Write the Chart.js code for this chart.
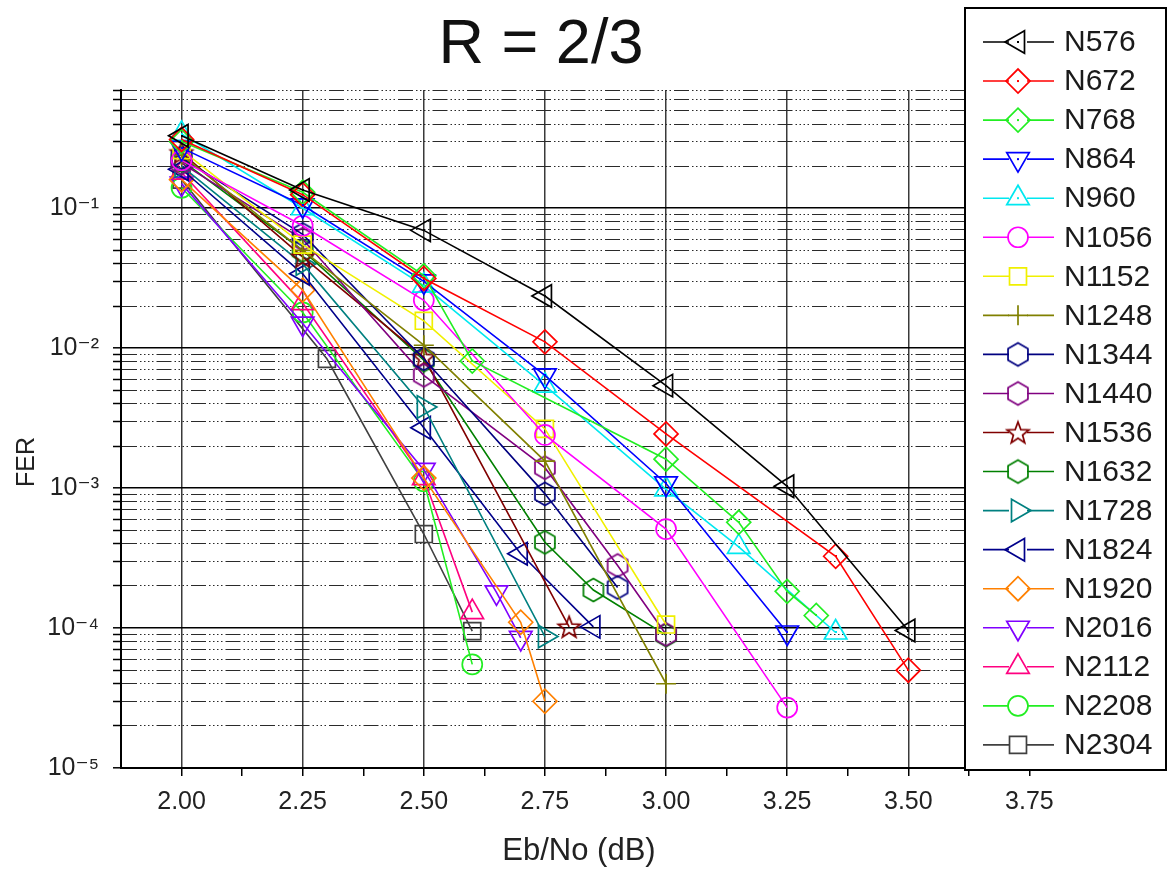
<!DOCTYPE html>
<html><head><meta charset="utf-8">
<script src="https://cdn.jsdelivr.net/npm/chart.js@4.4.1/dist/chart.umd.min.js"></script>
<style>html,body{margin:0;padding:0;background:#fff;}#wrap{width:1171px;height:871px;position:relative;}</style>
</head><body><div id="wrap"><canvas id="c" width="1171" height="871"></canvas></div>
<script>
const FONT = "'Liberation Sans', Arial, 'DejaVu Sans', sans-serif";
const chartTitle = 'R = 2/3';
const xAxisTitle = 'Eb/No (dB)';
const yAxisTitle = 'FER';

// x ticks
const xMajorTicks = [2.00, 2.25, 2.50, 2.75, 3.00, 3.25, 3.50, 3.75];
const xMajorLabels = ['2.00', '2.25', '2.50', '2.75', '3.00', '3.25', '3.50', '3.75'];
const xMinorTicks = [2.125, 2.375, 2.625, 2.875, 3.125, 3.375, 3.625];
// y ticks (log)
const yDecades = [1e-5, 1e-4, 1e-3, 1e-2, 1e-1];
const yDecadeLabels = ['10\u207B\u2075', '10\u207B\u2074', '10\u207B\u00B3', '10\u207B\u00B2', '10\u207B\u00B9'];
const yMinorMultipliers = [2, 3, 4, 5, 6, 7, 8, 9];

// series
const seriesNames = ['N576','N672','N768','N864','N960','N1056','N1152','N1248','N1344','N1440','N1536','N1632','N1728','N1824','N1920','N2016','N2112','N2208','N2304'];

const fer_N576  = [[2.00,0.33],[2.25,0.135],[2.50,0.0695],[2.75,0.0236],[3.00,0.0054],[3.25,0.00103],[3.50,9.6e-5]];
const fer_N672  = [[2.00,0.31],[2.25,0.125],[2.50,0.0315],[2.75,0.0111],[3.00,0.00244],[3.35,3.26e-4],[3.50,5.0e-5]];
const fer_N768  = [[2.00,0.30],[2.25,0.13],[2.50,0.033],[2.60,0.0081],[3.00,0.00161],[3.15,5.7e-4],[3.25,1.83e-4],[3.31,1.23e-4]];
const fer_N864  = [[2.00,0.27],[2.25,0.105],[2.50,0.030],[2.75,0.0064],[3.00,0.00108],[3.25,9.3e-5]];
const fer_N960  = [[2.00,0.34],[2.25,0.10],[2.50,0.028],[2.75,0.0054],[3.00,9.8e-4],[3.15,3.8e-4],[3.35,9.3e-5]];
const fer_N1056 = [[2.00,0.22],[2.25,0.075],[2.50,0.022],[2.75,0.0024],[3.00,5.1e-4],[3.25,2.7e-5]];
const fer_N1152 = [[2.00,0.26],[2.25,0.055],[2.50,0.0157],[2.75,0.00265],[3.00,1.06e-4]];
const fer_N1248 = [[2.00,0.24],[2.25,0.05],[2.50,0.0105],[2.75,0.00156],[3.00,4.0e-5]];
const fer_N1344 = [[2.00,0.23],[2.25,0.065],[2.50,0.0084],[2.75,9.1e-4],[2.90,1.95e-4]];
const fer_N1440 = [[2.00,0.21],[2.25,0.06],[2.50,0.0064],[2.75,0.0014],[2.90,2.8e-4],[3.00,9.0e-5]];
const fer_N1536 = [[2.00,0.25],[2.25,0.045],[2.50,0.0086],[2.80,1.02e-4]];
const fer_N1632 = [[2.00,0.22],[2.25,0.05],[2.50,0.0082],[2.75,4.1e-4],[2.85,1.87e-4],[3.00,8.9e-5]];
const fer_N1728 = [[2.00,0.20],[2.25,0.04],[2.50,0.0038],[2.75,8.7e-5]];
const fer_N1824 = [[2.00,0.19],[2.25,0.034],[2.50,0.0027],[2.70,3.4e-4],[2.85,1.02e-4]];
const fer_N1920 = [[2.00,0.16],[2.25,0.026],[2.50,0.00118],[2.70,1.1e-4],[2.75,3.0e-5]];
const fer_N2016 = [[2.00,0.15],[2.25,0.015],[2.50,0.00135],[2.65,1.8e-4],[2.70,8.5e-5]];
const fer_N2112 = [[2.00,0.18],[2.25,0.021],[2.50,0.00118],[2.60,1.3e-4]];
const fer_N2208 = [[2.00,0.14],[2.25,0.018],[2.50,0.00112],[2.60,5.5e-5]];
const fer_N2304 = [[2.00,0.16],[2.30,0.0084],[2.50,4.7e-4],[2.60,9.5e-5]];

const seriesData = [fer_N576,fer_N672,fer_N768,fer_N864,fer_N960,fer_N1056,fer_N1152,fer_N1248,fer_N1344,fer_N1440,fer_N1536,fer_N1632,fer_N1728,fer_N1824,fer_N1920,fer_N2016,fer_N2112,fer_N2208,fer_N2304];

// styles
const seriesColors = ['#000000','#ff0000','#22ee22','#0000ff','#00e8f0','#ff00ff','#f0f000','#808000','#000080','#800080','#800000','#008000','#008080','#00008b','#ff8000','#8000ff','#ff0080','#22ee22','#404040'];
const seriesShapes = ['triangle','rectRot','rectRot','triangle','triangle','circle','rect','cross','hex','hex','star5','hex','triangle','triangle','rectRot','triangle','triangle','circle','rect'];
const seriesRotation = [-90,0,0,180,0,0,0,0,0,0,0,0,90,-90,0,180,0,0,0];
const seriesRadius = [13,12,12,13,13,10,12,10,11,11,11,11,13,13,12,13,13,10,12];
const seriesCenterDot = [true,true,true,true,true,false,false,false,false,false,false,false,false,false,false,false,false,false,false];

function makeHex(color){
  const s=28, c=document.createElement('canvas'); c.width=s; c.height=s;
  const g=c.getContext('2d'); g.strokeStyle=color; g.lineWidth=1.7; g.beginPath();
  const R=11.5;
  for(let k=0;k<6;k++){ const a=-Math.PI/2+k*Math.PI/3; const x=s/2+R*Math.cos(a), y=s/2+R*Math.sin(a); k?g.lineTo(x,y):g.moveTo(x,y); }
  g.closePath(); g.stroke(); return c;
}
function makeStar(color){
  const s=28, c=document.createElement('canvas'); c.width=s; c.height=s;
  const g=c.getContext('2d'); g.strokeStyle=color; g.lineWidth=1.7; g.lineJoin='miter'; g.beginPath();
  const R=11.5, r=4.8;
  for(let k=0;k<10;k++){ const a=-Math.PI/2+k*Math.PI/5; const rr=k%2?r:R; const x=s/2+rr*Math.cos(a), y=s/2+1+rr*Math.sin(a); k?g.lineTo(x,y):g.moveTo(x,y); }
  g.closePath(); g.stroke(); return c;
}
function styleFor(i){
  const sh=seriesShapes[i];
  if(sh==='hex') return makeHex(seriesColors[i]);
  if(sh==='star5') return makeStar(seriesColors[i]);
  return sh;
}

const datasets = seriesNames.map((name,i)=>({
  label: name,
  data: seriesData[i].map(p=>({x:p[0], y:p[1]})),
  borderColor: seriesColors[i],
  backgroundColor: 'rgba(0,0,0,0)',
  borderWidth: 1.6,
  pointStyle: styleFor(i),
  pointRotation: seriesRotation[i],
  pointRadius: seriesRadius[i],
  pointBorderWidth: 1.7,
  pointBorderColor: seriesColors[i],
  pointBackgroundColor: 'rgba(0,0,0,0)',
  tension: 0,
  fill: false,
  centerDot: seriesCenterDot[i]
}));

function isDecade(v){ return yDecades.some(d=>Math.abs(Math.log10(v)-Math.log10(d))<1e-6); }
const minorDash = [15,3,1.5,2.5,1.5,2.5,1.5,2.5,1.5,3];

const centerDotPlugin = {
  id:'centerDot',
  afterDatasetsDraw(chart){
    const ctx=chart.ctx, a=chart.chartArea;
    ctx.save(); ctx.beginPath(); ctx.rect(a.left,a.top,a.right-a.left,a.bottom-a.top); ctx.clip();
    chart.data.datasets.forEach((ds,i)=>{
      if(!ds.centerDot) return;
      const meta=chart.getDatasetMeta(i);
      ctx.fillStyle=ds.borderColor;
      meta.data.forEach(el=>{ ctx.fillRect(Math.round(el.x)-1,Math.round(el.y)-1,2,2); });
    });
    ctx.restore();
  }
};

const titleLegendPlugin = {
  id:'titleLegend',
  afterDraw(chart){
    const ctx=chart.ctx;
    ctx.save();
    // chart title
    ctx.fillStyle='#111'; ctx.font='63px '+FONT; ctx.textAlign='center'; ctx.textBaseline='middle';
    ctx.fillText(chartTitle, 541, 46);
    // axis titles
    ctx.fillStyle='#222'; ctx.font='31px '+FONT;
    ctx.fillText(xAxisTitle, 579, 851);
    ctx.save(); ctx.translate(27, 462); ctx.rotate(-Math.PI/2);
    ctx.font='25px '+FONT; ctx.fillText(yAxisTitle, 0, 0); ctx.restore();
    // legend box
    const bx=965, by=8, bw=201, bh=762;
    ctx.fillStyle='#fff'; ctx.fillRect(bx,by,bw,bh);
    ctx.strokeStyle='#000'; ctx.lineWidth=2; ctx.strokeRect(bx,by,bw,bh);
    const rowStep = 39.05;
    chart.data.datasets.forEach((ds,i)=>{
      const y = 42 + i*rowStep, mx = 1018;
      ctx.strokeStyle=ds.borderColor; ctx.lineWidth=1.6; ctx.setLineDash([]);
      ctx.beginPath(); ctx.moveTo(983,y); ctx.lineTo(mx-9,y); ctx.moveTo(mx+9,y); ctx.lineTo(1054,y); ctx.stroke();
      ctx.fillStyle='rgba(0,0,0,0)'; ctx.strokeStyle=ds.borderColor; ctx.lineWidth=1.7;
      Chart.helpers.drawPoint(ctx,{pointStyle:ds.pointStyle, rotation:ds.pointRotation, radius:ds.pointRadius, borderWidth:1.7}, mx, y);
      if(ds.centerDot){ ctx.fillStyle=ds.borderColor; ctx.fillRect(mx-1,y-1,2,2); }
      ctx.fillStyle='#1a1a1a'; ctx.font='30px '+FONT; ctx.textAlign='left'; ctx.textBaseline='middle';
      ctx.fillText(ds.label, 1064, y+1);
    });
    ctx.restore();
  }
};

new Chart(document.getElementById('c'), {
  type:'line',
  data:{datasets},
  plugins:[centerDotPlugin, titleLegendPlugin],
  options:{
    responsive:false, animation:false, devicePixelRatio:1,
    layout:{padding:{top:90,right:81,bottom:0,left:0}},
    plugins:{legend:{display:false}, title:{display:false}, tooltip:{enabled:false}},
    elements:{line:{tension:0}},
    scales:{
      x:{
        type:'linear', min:1.875, max:3.875,
        afterBuildTicks:(s)=>{ s.ticks = xMajorTicks.concat(xMinorTicks).sort((a,b)=>a-b).map(v=>({value:v})); },
        afterFit:(s)=>{ s.height = 103; },
        ticks:{
          autoSkip:false, maxRotation:0, padding:11, color:'#222',
          font:{family:FONT, size:25},
          callback:(v)=>{ const i=xMajorTicks.findIndex(t=>Math.abs(t-v)<1e-6); return i>=0?xMajorLabels[i]:''; }
        },
        grid:{
          color:(c)=> (c.tick && xMajorTicks.some(t=>Math.abs(t-c.tick.value)<1e-6)) ? '#3a3a3a' : 'rgba(0,0,0,0)',
          lineWidth:1.5, tickColor:'#000', tickWidth:1.5, tickLength:8, drawTicks:true
        },
        border:{display:true, color:'#000', width:2},
        title:{display:false}
      },
      y:{
        type:'logarithmic', min:1e-5, max:0.7,
        afterBuildTicks:(s)=>{
          const t=[];
          yDecades.forEach(d=>{ t.push(d); yMinorMultipliers.forEach(m=>{ const v=m*d; if(v<=0.7+1e-9) t.push(v); }); });
          s.ticks=t.map(v=>({value:v}));
        },
        afterFit:(s)=>{ s.width = 121; },
        ticks:{
          autoSkip:false, padding:14, color:'#222',
          font:{family:FONT, size:25},
          callback:(v)=>{ const i=yDecades.findIndex(d=>Math.abs(Math.log10(v)-Math.log10(d))<1e-6); return i>=0?yDecadeLabels[i]:''; }
        },
        grid:{
          color:(c)=> (c.tick && isDecade(c.tick.value)) ? '#000' : '#2a2a2a',
          lineWidth:(c)=> (c.tick && isDecade(c.tick.value)) ? 1.6 : 1,
          tickColor:'#000', tickWidth:1.5, tickLength:8
        },
        border:{display:true, color:'#000', width:2, dash:(c)=> (c.tick && !isDecade(c.tick.value)) ? minorDash : []},
        title:{display:false}
      }
    }
  }
});
</script></body></html>
